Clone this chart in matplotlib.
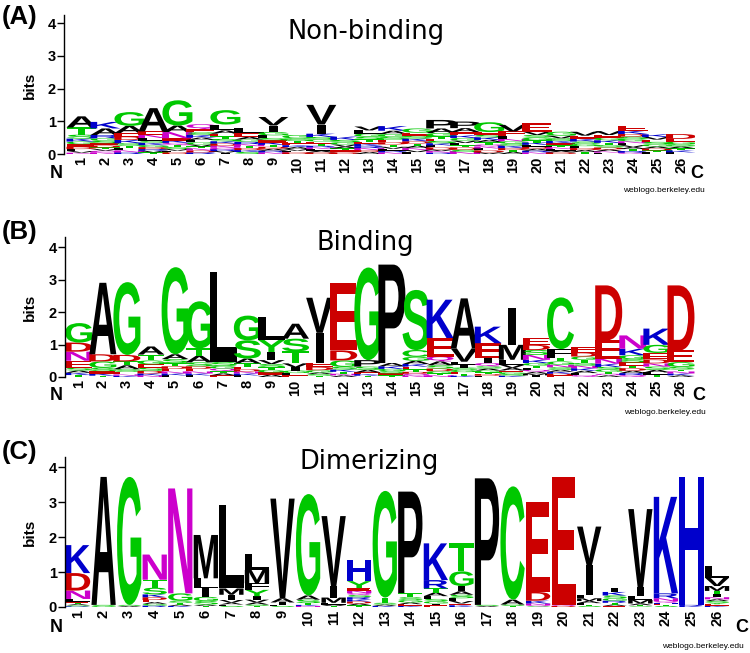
import matplotlib
matplotlib.use("Agg")
import matplotlib.pyplot as plt
from matplotlib.textpath import TextPath
from matplotlib.patches import PathPatch
from matplotlib.font_manager import FontProperties
from matplotlib.transforms import Affine2D

positions = list(range(1, 27))
titles = ["Non-binding", "Binding", "Dimerizing"]
panel_tags = ["(A)", "(B)", "(C)"]

# letter heights (bits) per position
non_binding = [
    [("A", .34), ("T", .22), ("S", .12), ("K", .09), ("E", .08), ("G", .08), ("D", .07), ("L", .06), ("V", .05), ("N", .04)],
    [("A", .2), ("K", .2), ("R", .1), ("G", .08), ("E", .07), ("S", .07), ("D", .06), ("N", .05), ("Q", .05), ("V", .05), ("T", .05)],
    [("G", .42), ("A", .22), ("K", .1), ("T", .08), ("E", .11), ("D", .1), ("S", .08), ("N", .06), ("L", .06), ("R", .05)],
    [("A", .71), ("N", .1), ("E", .1), ("L", .08), ("K", .07), ("S", .07), ("D", .06), ("G", .06), ("T", .05), ("V", .05), ("R", .05)],
    [("G", .77), ("A", .2), ("N", .19), ("Q", .07), ("K", .07), ("E", .07), ("S", .06), ("T", .06), ("D", .05), ("L", .05), ("V", .05)],
    [("Q", .15), ("E", .1), ("K", .08), ("S", .08), ("G", .07), ("L", .07), ("A", .07), ("D", .06), ("N", .06), ("T", .06), ("V", .06), ("R", .05)],
    [("G", .44), ("L", .18), ("A", .1), ("T", .08), ("E", .08), ("D", .07), ("K", .07), ("S", .07), ("N", .06), ("V", .05), ("R", .05), ("Q", .05), ("I", .04)],
    [("L", .15), ("E", .12), ("A", .08), ("R", .07), ("G", .07), ("S", .06), ("K", .06), ("D", .06), ("T", .06), ("N", .06)],
    [("V", .26), ("I", .2), ("G", .1), ("L", .08), ("K", .07), ("E", .07), ("S", .07), ("A", .06), ("D", .06), ("T", .06), ("N", .05), ("R", .05)],
    [("G", .1), ("S", .08), ("T", .07), ("A", .06), ("K", .06), ("E", .06), ("D", .05), ("L", .05), ("V", .05)],
    [("V", .6), ("I", .28), ("K", .1), ("E", .07), ("G", .07), ("S", .07), ("T", .06), ("D", .05), ("A", .05), ("L", .05), ("N", .05), ("R", .05)],
    [("K", .1), ("G", .07), ("S", .07), ("E", .06), ("T", .06), ("A", .06), ("D", .05), ("V", .06)],
    [("V", .12), ("L", .1), ("G", .09), ("S", .08), ("K", .07), ("E", .07), ("T", .07), ("A", .06), ("D", .06), ("N", .06), ("R", .06)],
    [("K", .14), ("A", .1), ("G", .09), ("E", .08), ("S", .08), ("T", .07), ("D", .07), ("L", .06), ("V", .06), ("N", .05), ("R", .05)],
    [("G", .13), ("E", .1), ("K", .08), ("S", .08), ("A", .07), ("T", .07), ("D", .07), ("L", .06), ("V", .06), ("N", .06)],
    [("P", .26), ("A", .14), ("G", .1), ("K", .07), ("S", .07), ("E", .07), ("T", .07), ("D", .06), ("L", .06), ("N", .05), ("V", .05), ("R", .04)],
    [("P", .2), ("A", .12), ("E", .1), ("G", .08), ("K", .08), ("S", .07), ("D", .07), ("T", .07), ("L", .07), ("N", .06), ("V", .07)],
    [("G", .3), ("K", .08), ("S", .08), ("E", .08), ("T", .07), ("A", .07), ("D", .06), ("L", .06), ("N", .06), ("Q", .06), ("V", .05)],
    [("V", .2), ("E", .15), ("L", .08), ("K", .07), ("S", .07), ("G", .07), ("A", .06), ("T", .06), ("D", .06), ("N", .07)],
    [("E", .26), ("V", .1), ("G", .08), ("S", .08), ("K", .07), ("T", .07), ("A", .06), ("D", .06), ("L", .06), ("N", .05), ("R", .05)],
    [("G", .12), ("S", .08), ("V", .08), ("E", .07), ("K", .07), ("T", .06), ("D", .05), ("A", .05), ("L", .05), ("N", .05)],
    [("V", .12), ("E", .1), ("K", .08), ("G", .07), ("S", .07), ("T", .06), ("A", .06), ("D", .06), ("L", .06)],
    [("V", .12), ("K", .08), ("G", .08), ("E", .08), ("S", .07), ("T", .07), ("A", .06), ("D", .06), ("L", .04), ("N", .04)],
    [("E", .16), ("K", .1), ("D", .08), ("G", .07), ("S", .07), ("T", .06), ("A", .06), ("V", .06), ("L", .06), ("N", .06), ("R", .05), ("Q", .04)],
    [("V", .08), ("K", .08), ("G", .07), ("S", .07), ("E", .07), ("T", .06), ("D", .06), ("A", .06), ("L", .05)],
    [("D", .15), ("G", .08), ("E", .08), ("S", .07), ("K", .06), ("T", .06), ("A", .06), ("L", .05)],
]

binding = [
    [("G", .6), ("N", .28), ("D", .28), ("E", .22), ("S", .08), ("K", .07), ("A", .07), ("T", .06)],
    [("A", 2.2), ("D", .22), ("G", .2), ("S", .1), ("E", .08), ("K", .06), ("T", .04)],
    [("G", 2.24), ("D", .2), ("A", .12), ("T", .12), ("E", .08), ("S", .08), ("K", .04), ("N", .04)],
    [("A", .25), ("T", .18), ("G", .12), ("S", .1), ("E", .1), ("D", .08), ("K", .06), ("N", .05)],
    [("G", 2.68), ("A", .15), ("S", .12), ("T", .1), ("E", .08), ("D", .08), ("K", .06), ("N", .06), ("L", .05)],
    [("G", 1.45), ("T", .23), ("A", .2), ("S", .12), ("E", .08), ("D", .08), ("K", .06), ("N", .06), ("L", .05)],
    [("L", 2.77), ("S", .12), ("Q", .08), ("G", .08), ("T", .07), ("A", .06), ("E", .05)],
    [("G", .76), ("S", .56), ("A", .15), ("T", .1), ("E", .08), ("D", .07), ("K", .06), ("N", .06), ("L", .05)],
    [("L", .71), ("Y", .37), ("I", .25), ("V", .12), ("S", .1), ("G", .08), ("T", .08), ("A", .07), ("E", .07)],
    [("A", .46), ("S", .39), ("T", .37), ("V", .12), ("I", .1), ("G", .08), ("L", .07), ("E", .05)],
    [("V", 1.08), ("I", .92), ("E", .13), ("D", .1), ("G", .07), ("S", .05), ("A", .05), ("T", .04)],
    [("E", 2.06), ("D", .31), ("G", .2), ("S", .08), ("K", .07), ("T", .06), ("A", .05), ("N", .05)],
    [("G", 2.85), ("P", .2), ("S", .1), ("A", .08), ("K", .05), ("E", .05), ("T", .04)],
    [("P", 3.03), ("A", .1), ("K", .08), ("S", .07), ("G", .07), ("E", .06), ("T", .05)],
    [("S", 1.85), ("C", .21), ("G", .12), ("A", .1), ("T", .08), ("E", .08), ("K", .08), ("D", .06), ("N", .05), ("Q", .05)],
    [("K", 1.18), ("E", .57), ("Q", .15), ("A", .12), ("S", .1), ("D", .08), ("G", .07), ("T", .06), ("N", .05)],
    [("A", 1.54), ("V", .41), ("L", .1), ("I", .08), ("G", .07), ("S", .07), ("E", .06), ("T", .05), ("K", .04)],
    [("K", .51), ("E", .46), ("I", .15), ("Q", .1), ("S", .07), ("G", .06), ("A", .06), ("D", .05), ("T", .05), ("L", .04)],
    [("I", 1.13), ("M", .46), ("L", .15), ("V", .1), ("A", .08), ("E", .06), ("S", .05), ("G", .05), ("K", .04)],
    [("E", .2), ("D", .16), ("N", .15), ("S", .15), ("K", .1), ("G", .08), ("T", .07), ("A", .06), ("Q", .06), ("L", .06), ("I", .05), ("M", .05)],
    [("C", 1.59), ("F", .26), ("T", .12), ("G", .1), ("S", .08), ("N", .08), ("K", .06), ("A", .06), ("E", .05), ("D", .05)],
    [("E", .18), ("D", .12), ("T", .1), ("G", .1), ("K", .08), ("N", .08), ("S", .08), ("A", .07), ("Q", .06), ("L", .06)],
    [("D", 1.69), ("E", .57), ("N", .15), ("K", .1), ("S", .08), ("G", .07), ("T", .06), ("A", .05), ("Q", .05)],
    [("N", .41), ("K", .2), ("G", .12), ("E", .1), ("S", .1), ("D", .08), ("T", .08), ("A", .07), ("Q", .06), ("R", .06)],
    [("K", .5), ("G", .25), ("E", .2), ("D", .12), ("S", .1), ("N", .1), ("A", .08), ("T", .07), ("L", .07)],
    [("D", 2.0), ("E", .36), ("G", .15), ("S", .08), ("K", .06), ("N", .06), ("T", .06), ("A", .05)],
]

dimerizing = [
    [("K", .8), ("D", .5), ("N", .24), ("L", .08), ("E", .04), ("S", .03), ("A", .03), ("T", .03), ("R", .02)],
    [("A", 3.66), ("G", .03), ("S", .03)],
    [("G", 3.66), ("A", .03), ("S", .03)],
    [("N", .72), ("T", .23), ("S", .19), ("D", .08), ("K", .08), ("E", .06), ("G", .05), ("A", .05), ("R", .04)],
    [("N", 3.0), ("G", .21), ("S", .06), ("T", .05), ("A", .04), ("K", .03)],
    [("M", 1.24), ("L", .29), ("I", .24), ("G", .12), ("S", .1), ("A", .04), ("T", .03)],
    [("L", 2.38), ("M", .18), ("I", .15), ("V", .08), ("A", .05), ("F", .04), ("S", .03)],
    [("L", .47), ("M", .38), ("F", .19), ("Y", .18), ("I", .1), ("V", .08), ("A", .06), ("S", .04), ("T", .03)],
    [("V", 2.85), ("A", .12), ("I", .06), ("L", .04), ("S", .03)],
    [("G", 2.9), ("A", .12), ("S", .1), ("T", .05), ("N", .03), ("K", .03)],
    [("V", 2.0), ("I", .33), ("M", .15), ("L", .05), ("A", .04), ("T", .03)],
    [("H", .6), ("Y", .2), ("N", .07), ("E", .07), ("D", .06), ("K", .06), ("R", .06), ("S", .06), ("T", .05), ("A", .05), ("Q", .06)],
    [("G", 3.05), ("T", .15), ("S", .05), ("A", .04), ("K", .03)],
    [("P", 2.9), ("T", .12), ("S", .08), ("G", .07), ("A", .05), ("K", .04), ("E", .04)],
    [("K", 1.05), ("R", .24), ("T", .12), ("A", .1), ("L", .08), ("S", .07), ("G", .06), ("E", .05), ("I", .05)],
    [("T", .8), ("G", .42), ("I", .15), ("S", .1), ("A", .1), ("L", .08), ("V", .07), ("K", .05), ("E", .05)],
    [("P", 3.62), ("A", .03), ("S", .03)],
    [("C", 3.24), ("A", .14), ("S", .04), ("T", .03)],
    [("E", 2.57), ("D", .25), ("K", .08), ("N", .05), ("Q", .03), ("S", .02)],
    [("E", 3.66), ("D", .03), ("Q", .03)],
    [("V", 1.1), ("I", .85), ("L", .1), ("M", .08), ("A", .06), ("F", .05), ("S", .03), ("T", .03)],
    [("I", .12), ("K", .1), ("S", .08), ("G", .07), ("R", .06), ("T", .05), ("A", .04), ("E", .03)],
    [("V", 2.24), ("I", .24), ("L", .12), ("M", .1), ("A", .05), ("T", .03), ("S", .02)],
    [("K", 2.76), ("R", .14), ("N", .08), ("Q", .05), ("S", .03), ("T", .03), ("E", .03), ("H", .03)],
    [("H", 3.66), ("K", .03), ("R", .03)],
    [("L", .33), ("V", .24), ("M", .14), ("T", .1), ("I", .08), ("N", .06), ("S", .05), ("A", .05), ("K", .04), ("E", .04), ("Y", .04)],
]

colors = {}
for aa in "GSTYC":
    colors[aa] = "#00c800"
for aa in "NQ":
    colors[aa] = "#cc00cc"
for aa in "KRH":
    colors[aa] = "#0000cc"
for aa in "DE":
    colors[aa] = "#cc0000"
for aa in "AVLIPWFM":
    colors[aa] = "black"

W, H = 750, 653
fig = plt.figure(figsize=(7.5, 6.53), dpi=100)

font = FontProperties(family="Liberation Sans", weight="bold")
glyphs = {}


def draw_letter(ax, aa, x, y0, w, h):
    if aa not in glyphs:
        glyphs[aa] = TextPath((0, 0), aa, size=1, prop=font)
    path = glyphs[aa]
    bb = path.get_extents()
    ww = w * 0.3 if aa == "I" else w
    tr = Affine2D().translate(-bb.x0, -bb.y0).scale(ww / bb.width, h / bb.height).translate(x - ww / 2, y0)
    ax.add_patch(PathPatch(tr.transform_path(path), fc=colors[aa], ec="none", lw=0))


def fx(px):
    return px / W


def fy(py):
    return 1 - py / H


# pixel layout: axis x, zero y, top y, xlim, letter width, px per unit
panels = [
    dict(data=non_binding, ax_x=64, y0=154, y1=15, xlim=(0.27, 26.6), unit=23.98, lw=1.25, ymax=4.245,
         tag_y=17, title=(366, 32), bits_y=85, nc_y=173, c_x=697, wl=(664, 191, "center")),
    dict(data=binding, ax_x=65, y0=377, y1=237, xlim=(0.43, 26.6), unit=24.09, lw=1.12, ymax=4.31,
         tag_y=232, title=(365, 243), bits_y=307, nc_y=396, c_x=699, wl=(665, 412, "center")),
    dict(data=dimerizing, ax_x=65, y0=607, y1=457, xlim=(0.49, 26.6), unit=25.56, lw=0.95, ymax=4.29,
         tag_y=452, title=(369, 462), bits_y=532, nc_y=628, c_x=742, wl=(662, 646, "left")),
]

for i, p in enumerate(panels):
    width_px = (p["xlim"][1] - p["xlim"][0]) * p["unit"]
    ax = fig.add_axes([fx(p["ax_x"]), fy(p["y0"]), width_px / W, (p["y0"] - p["y1"]) / H])
    for pos, column in zip(positions, p["data"]):
        y = 0.0
        for aa, h in sorted(column, key=lambda t: t[1]):
            draw_letter(ax, aa, pos, y, p["lw"], h)
            y += h
    ax.set_xlim(*p["xlim"])
    ax.set_ylim(0, p["ymax"])
    for s in ["top", "right", "bottom"]:
        ax.spines[s].set_visible(False)
    ax.spines["left"].set_linewidth(1.0)
    ax.spines["left"].set_bounds(0, p["ymax"])
    ax.set_yticks([0, 1, 2, 3, 4])
    ax.set_xticks(positions)
    ax.set_xticklabels([str(v) for v in positions], rotation=90, fontproperties=font, fontsize=10.5)
    ax.set_yticklabels(["0", "1", "2", "3", "4"], fontproperties=font, fontsize=10.5)
    ax.tick_params(axis="x", length=0, pad=2)
    ax.tick_params(axis="y", length=5, width=1, pad=1)
    ax.patch.set_alpha(0)

    fig.text(fx(2), fy(p["tag_y"]), panel_tags[i], fontproperties=font, fontsize=18.5, va="center", ha="left")
    fig.text(fx(p["title"][0]), fy(p["title"][1]), titles[i], family="DejaVu Sans", fontsize=18.5,
             ha="center", va="center")
    fig.text(fx(30), fy(p["bits_y"]), "bits", fontproperties=font, fontsize=11, rotation=90,
             ha="center", va="center")
    fig.text(fx(56), fy(p["nc_y"]), "N", fontproperties=font, fontsize=13, ha="center", va="center")
    fig.text(fx(p["c_x"]), fy(p["nc_y"]), "C", fontproperties=font, fontsize=13, ha="center", va="center")
    fig.text(fx(p["wl"][0]), fy(p["wl"][1]), "weblogo.berkeley.edu", family="Liberation Sans", fontsize=6,
             ha=p["wl"][2], va="center")

fig.savefig("out.png", dpi=100)
